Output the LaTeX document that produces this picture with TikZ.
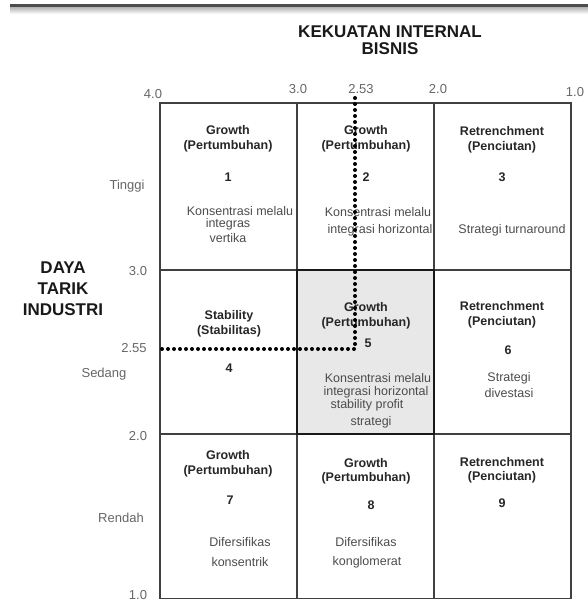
\documentclass[tikz,border=0pt]{standalone}
\usepackage{fontspec}
\setmainfont{Liberation Sans}
\usetikzlibrary{arrows, positioning}

\begin{document}
\begin{tikzpicture}[x=1pt, y=-1pt]
	\tikzstyle{Cell} = [rectangle, minimum width=137pt, minimum height=164pt, draw=black!75, line width=1.2pt, inner sep=0pt]
	\tikzstyle{Head} = [font=\fontsize{12.5}{12.5}\selectfont\bfseries, text=black!85, inner sep=0pt]
	\tikzstyle{Body} = [font=\fontsize{12.5}{12.5}\selectfont, text=black!70, inner sep=0pt]
	\tikzstyle{Tick} = [font=\fontsize{13}{13}\selectfont, text=black!60, inner sep=0pt]
	\tikzstyle{Title} = [font=\fontsize{17}{17}\selectfont\bfseries, text=black!90, inner sep=0pt]
	\tikzstyle{dots} = [line width=4pt, dash pattern=on 0pt off 6pt, line cap=round]
	
	\useasboundingbox (0,0) rectangle (588,602);
	\shade [top color=black!30, bottom color=white] (10,7) rectangle (588,14);
	\draw [line width=3pt, black!70] (10,6) -- (588,6);
	
	% grid
	\node (cell1) [Cell, minimum height=167pt] at (228.5,186.5) {};
	\node (cell2) [Cell, minimum height=167pt] at (365.5,186.5) {};
	\node (cell3) [Cell, minimum height=167pt] at (502.5,186.5) {};
	\node (cell4) [Cell] at (228.5,352) {};
	\node (cell6) [Cell] at (502.5,352) {};
	\node (cell7) [Cell] at (228.5,516.5) {};
	\node (cell8) [Cell] at (365.5,516.5) {};
	\node (cell9) [Cell] at (502.5,516.5) {};
	\node (cell5) [Cell, fill=black!9, draw=black!90, line width=1.6pt] at (365.5,352) {};
	
	% titles
	\node (kekuatan) [Title] at (390,32) {KEKUATAN INTERNAL};
	\node (bisnis) [Title] at (390,49) {BISNIS};
	\node (daya) [Title] at (63,268) {DAYA};
	\node (tarik) [Title] at (63,289) {TARIK};
	\node (industri) [Title] at (63,310) {INDUSTRI};
	
	% ticks
	\node (x40) [Tick] at (153,94) {4.0};
	\node (x30) [Tick] at (298,89) {3.0};
	\node (x253) [Tick] at (361,89) {2.53};
	\node (x20) [Tick] at (438,89) {2.0};
	\node (x10) [Tick] at (575,92) {1.0};
	\node (y30) [Tick] at (138,271) {3.0};
	\node (y255) [Tick] at (134,348) {2.55};
	\node (y20) [Tick] at (138,436) {2.0};
	\node (y10) [Tick] at (138,595) {1.0};
	\node (tinggi) [Tick] at (127,186) {Tinggi};
	\node (sedang) [Tick] at (104,374) {Sedang};
	\node (rendah) [Tick] at (121,518) {Rendah};
	
	% row 1
	\node (h1a) [Head] at (228,130) {Growth};
	\node (h1b) [Head] at (228,146) {(Pertumbuhan)};
	\node (n1) [Head] at (228,177) {1};
	\node (b1a) [Body] at (240,211) {Konsentrasi melalu};
	\node (b1b) [Body] at (228,224) {integras};
	\node (b1c) [Body] at (228,238) {vertika};
	
	\node (h2a) [Head] at (366,130) {Growth};
	\node (h2b) [Head] at (366,146) {(Pertumbuhan)};
	\node (n2) [Head] at (366,177) {2};
	\node (b2a) [Body] at (378,212) {Konsentrasi melalu};
	\node (b2b) [Body] at (380,230) {integrasi horizontal};
	
	\node (h3a) [Head] at (502,131) {Retrenchment};
	\node (h3b) [Head] at (502,147) {(Penciutan)};
	\node (n3) [Head] at (502,177) {3};
	\node (b3a) [Body] at (512,230) {Strategi turnaround};
	
	% row 2
	\node (h4a) [Head] at (229,316) {Stability};
	\node (h4b) [Head] at (229,331) {(Stabilitas)};
	\node (n4) [Head] at (229,368) {4};
	
	\node (h5a) [Head] at (366,307) {Growth};
	\node (h5b) [Head] at (366,323) {(Pertumbuhan)};
	\node (n5) [Head] at (368,343) {5};
	\node (b5a) [Body] at (378,378) {Konsentrasi melalu};
	\node (b5b) [Body] at (376,392) {integrasi horizontal};
	\node (b5c) [Body] at (367,405) {stability profit};
	\node (b5d) [Body] at (371,422) {strategi};
	
	\node (h6a) [Head] at (502,306) {Retrenchment};
	\node (h6b) [Head] at (502,322) {(Penciutan)};
	\node (n6) [Head] at (508,350) {6};
	\node (b6a) [Body] at (509,378) {Strategi};
	\node (b6b) [Body] at (509,393) {divestasi};
	
	% row 3
	\node (h7a) [Head] at (228,455) {Growth};
	\node (h7b) [Head] at (228,471) {(Pertumbuhan)};
	\node (n7) [Head] at (230,500) {7};
	\node (b7a) [Body] at (240,542) {Difersifikas};
	\node (b7b) [Body] at (240,562) {konsentrik};
	
	\node (h8a) [Head] at (366,463) {Growth};
	\node (h8b) [Head] at (366,478) {(Pertumbuhan)};
	\node (n8) [Head] at (371,505) {8};
	\node (b8a) [Body] at (366,542) {Difersifikas};
	\node (b8b) [Body] at (367,562) {konglomerat};
	
	\node (h9a) [Head] at (502,462) {Retrenchment};
	\node (h9b) [Head] at (502,477) {(Penciutan)};
	\node (n9) [Head] at (502,503) {9};
	
	% position marker
	\coordinate (ptop) at (355,98);
	\coordinate (pmark) at (355,349);
	\coordinate (pleft) at (160,349);
	\draw [dots] (ptop) -- (pmark) -- (pleft);
\end{tikzpicture}
\end{document}
